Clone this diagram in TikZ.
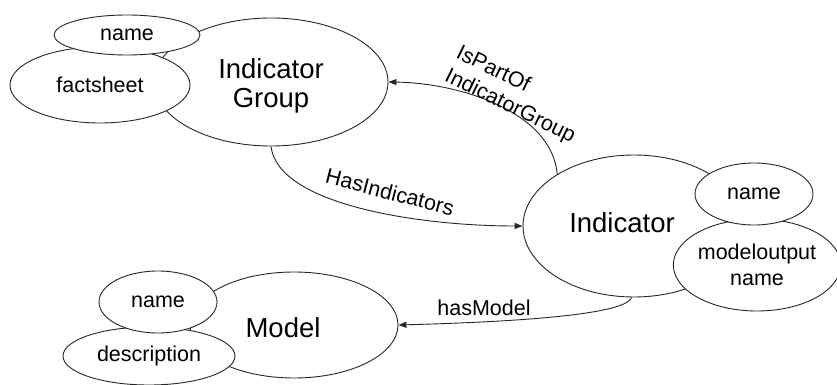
\documentclass[tikz,border=0pt]{standalone}
\usepackage{fontspec}
\setmainfont{Liberation Sans}
\usetikzlibrary{shapes.geometric,arrows.meta}
\begin{document}
\begin{tikzpicture}[x=1pt,y=-1pt,
  oval/.style={draw=black!85,line width=0.9pt,fill=white,ellipse,inner sep=0pt},
  bigtxt/.style={font=\fontsize{27.5}{29}\selectfont,align=center,inner sep=0pt},
  smalltxt/.style={font=\fontsize{21.5}{26}\selectfont,align=center},
  edgelbl/.style={font=\fontsize{21.5}{26}\selectfont,inner sep=0pt},
  rel/.style={draw=black!85,line width=0.9pt,-{Triangle[length=8pt,width=6pt]}}]
\useasboundingbox (0,0) rectangle (837,385);
% Indicator Group
\node[oval,minimum width=234pt,minimum height=128pt] (ig) at (271,82) {};
\node[bigtxt] (igt) at (271,86) {Indicator\\Group};
\node[oval,minimum width=180pt,minimum height=76pt,smalltxt] (fs) at (100,85) {factsheet};
\node[oval,minimum width=146pt,minimum height=40pt,smalltxt] (ign) at (127,35) {name};
% Indicator
\node[oval,minimum width=222pt,minimum height=142pt] (ind) at (634,226) {};
\node[bigtxt] (indt) at (622,223) {Indicator};
\node[oval,minimum width=160pt,minimum height=92pt,smalltxt] (mo) at (757,265) {modeloutput\\name};
\node[oval,minimum width=118pt,minimum height=62pt,smalltxt] (indn) at (754,194) {name};
% Model
\node[oval,minimum width=208pt,minimum height=106pt] (md) at (294,325) {};
\node[bigtxt] (mdt) at (283,328) {Model};
\node[oval,minimum width=172pt,minimum height=58pt,smalltxt] (desc) at (149,356) {description};
\node[oval,minimum width=118pt,minimum height=62pt,smalltxt] (mdn) at (158,302) {name};
% relations
\draw[rel] (ind.146) .. controls (552,112) and (460,83) .. (ig.east);
\node[edgelbl,rotate=-26,align=left] (l1) at (515.7,95.3) {IsPartOf\\IndicatorGroup};
\draw[rel] (ig.south) .. controls (278,205) and (420,226) .. (ind.west);
\node[edgelbl,rotate=-14.5] (l2) at (390,192) {HasIndicators};
\draw[rel] (ind.-92) .. controls (625,318) and (470,323) .. (md.east);
\node[edgelbl] (l3) at (484,308) {hasModel};
\end{tikzpicture}
\end{document}
